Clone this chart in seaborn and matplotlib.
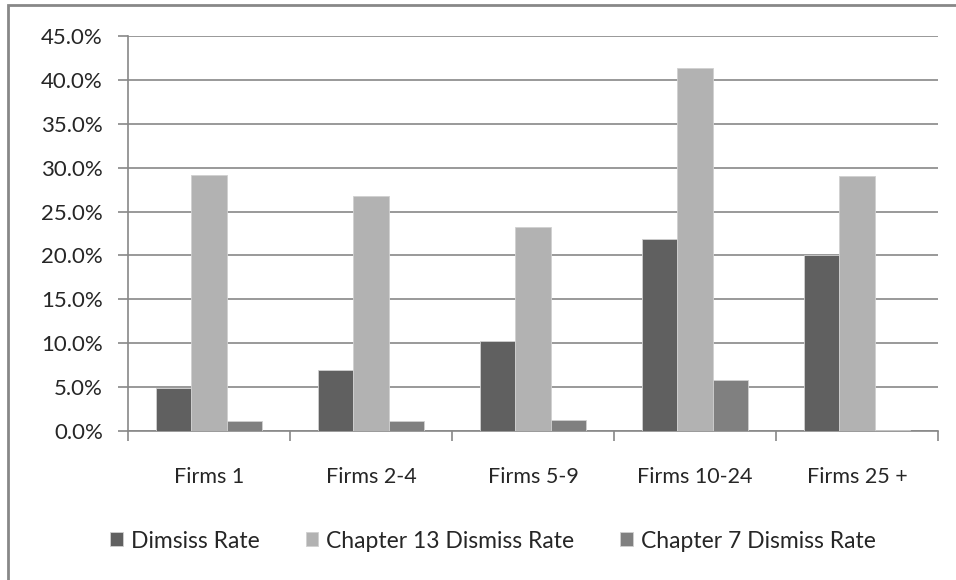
import matplotlib
matplotlib.use("Agg")
import matplotlib.pyplot as plt
import seaborn as sns
import pandas as pd
from matplotlib.patches import Rectangle
from matplotlib.ticker import PercentFormatter

# Chart data (rates in percent)
categories = ["Firms 1", "Firms 2-4", "Firms 5-9", "Firms 10-24", "Firms 25 +"]
series_names = ["Dimsiss Rate", "Chapter 13 Dismiss Rate", "Chapter 7 Dismiss Rate"]
dismiss_rate = [4.9, 6.9, 10.3, 21.9, 20.0]
ch13_rate = [29.2, 26.8, 23.2, 41.3, 29.1]
ch7_rate = [1.1, 1.1, 1.3, 5.8, 0.1]

df = pd.DataFrame({
    "category": categories * 3,
    "series": [s for s in series_names for _ in categories],
    "rate": dismiss_rate + ch13_rate + ch7_rate,
})

palette = {series_names[0]: "#606060", series_names[1]: "#b2b2b2", series_names[2]: "#808080"}

sns.set_style("white")
plt.rcParams["font.family"] = ["Lato", "DejaVu Sans"]
fs = 15.5

fig = plt.figure(figsize=(9.56, 5.8), dpi=100)
ax = fig.add_axes([128 / 956, 1 - 431 / 580, 810 / 956, 395 / 580])

sns.barplot(data=df, x="category", y="rate", hue="series", palette=palette,
            width=0.66, saturation=1, ax=ax, legend=True, zorder=3,
            edgecolor="#d0d0d0", linewidth=0.6)

ax.set_ylim(0, 45)
ax.set_xlim(-0.5, 4.5)
ax.set_yticks([i * 5 for i in range(10)])
ax.yaxis.set_major_formatter(PercentFormatter(decimals=1))
ax.yaxis.grid(True, color="#888888", linewidth=1.2, zorder=0)
ax.set_axisbelow(True)

# category boundary ticks on x
ax.set_xticks([i - 0.5 for i in range(6)], minor=False)
ax.set_xticklabels([])
ax.set_xticks(range(5), minor=True)
ax.set_xticklabels(categories, minor=True)
ax.tick_params(axis="x", which="major", length=7, direction="out", color="#888888", width=1.2, bottom=True)
ax.tick_params(axis="x", which="minor", length=0, pad=26, labelsize=fs)
ax.tick_params(axis="y", length=7, direction="out", color="#888888", width=1.2, left=True, labelsize=16, pad=11)

for side in ["top", "right"]:
    ax.spines[side].set_visible(False)
for side in ["left", "bottom"]:
    ax.spines[side].set_color("#888888")
    ax.spines[side].set_linewidth(1.2)
ax.set_xlabel("")
ax.set_ylabel("")

handles, labels = ax.get_legend_handles_labels()
ax.legend_.remove()
fig.legend(handles, labels, loc="center", bbox_to_anchor=(493 / 956, 1 - 541 / 580),
           ncol=3, frameon=False, fontsize=16.5, handlelength=0.55, handleheight=0.55,
           handletextpad=0.35, columnspacing=2.0)

# outer chart frame
fig.patches.append(Rectangle((8 / 956, -0.1), 1.2, 1 - 5 / 580 + 0.1, transform=fig.transFigure,
                             fill=False, edgecolor="#888888", linewidth=2))

fig.savefig("out.png", dpi=100)
